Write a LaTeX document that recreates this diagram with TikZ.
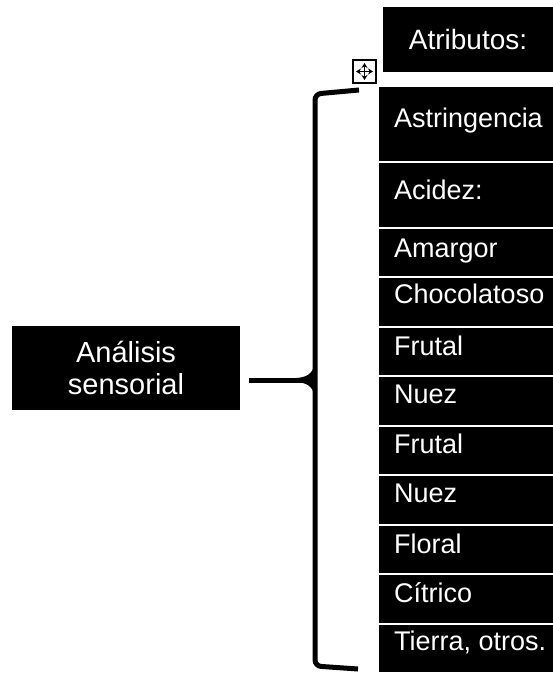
\documentclass[tikz,border=0pt]{standalone}
\usepackage{fontspec}
\setmainfont{Liberation Sans}
\usetikzlibrary{arrows.meta}
\usetikzlibrary{positioning}
\tikzset{box/.style={fill=black,text=white,inner sep=0pt},
         attr/.style={box,anchor=north west,inner xsep=15pt,font=\fontsize{27}{30}\selectfont},
         head/.style={box,minimum width=170pt,minimum height=65pt,font=\fontsize{28}{30}\selectfont},
         topic/.style={box,minimum width=228pt,minimum height=84pt,align=center,font=\fontsize{29}{32}\selectfont},
         brace/.style={line width=5pt,rounded corners=6pt},
         mover/.style={draw,line width=1.2pt,minimum size=23pt,inner sep=0pt},
         cross/.style={{Stealth[length=5pt,width=6pt]}-{Stealth[length=5pt,width=6pt]},line width=1.6pt},
         }

\begin{document}
\begin{tikzpicture}[x=1pt,y=-1pt]
		\useasboundingbox (0,0) rectangle (553,677);
		% title of the column
		\node[head] (atrib) at (468,39.5) {Atributos:};
		\node[mover] (handle) at (364.5,71.5) {};
		\draw[cross] ([xshift=-8.5pt]handle.center) -- ([xshift=8.5pt]handle.center);
		\draw[cross] ([yshift=-8.5pt]handle.center) -- ([yshift=8.5pt]handle.center);
		% rows: top/bottom/baseline/text
		\foreach \ya/\yb/\yt/\lbl [count=\i,
		    evaluate=\ya as \th using \yt-\ya-1,
		    evaluate=\ya as \tdp using \yb-\yt-1] in
		    {86/162/127/Astringencia, 162/228/199/Acidez:, 228/277/257/Amargor,
		     277/327/303/Chocolatoso, 327/376/355/Frutal, 376/426/403/Nuez,
		     426/475/453/Frutal, 475/525/502/Nuez, 525/574/553/Floral,
		     574/624/602/Cítrico, 624/673/650/{Tierra, otros.}}
		    \node[attr,text height=\th pt,text depth=\tdp pt] (r\i) at (379,\ya+1) {\makebox[144pt][l]{\lbl}};
		% left topic and brace
		\node[topic] (ana) at (126,368) {Análisis\\sensorial};
		\coordinate (tip) at (315,380);
		\draw[brace] (359,90) -- (315,94) -- (315,666) -- (358,669);
		\draw[line width=5pt] ([xshift=9pt]ana.east |- tip) -- (tip);
		\fill (296,378) .. controls (307,377.5) and (313,373) .. (314,365)
		    -- (314,395) .. controls (313,387) and (307,382.5) .. (296,382) -- cycle;
		\end{tikzpicture}
\end{document}
